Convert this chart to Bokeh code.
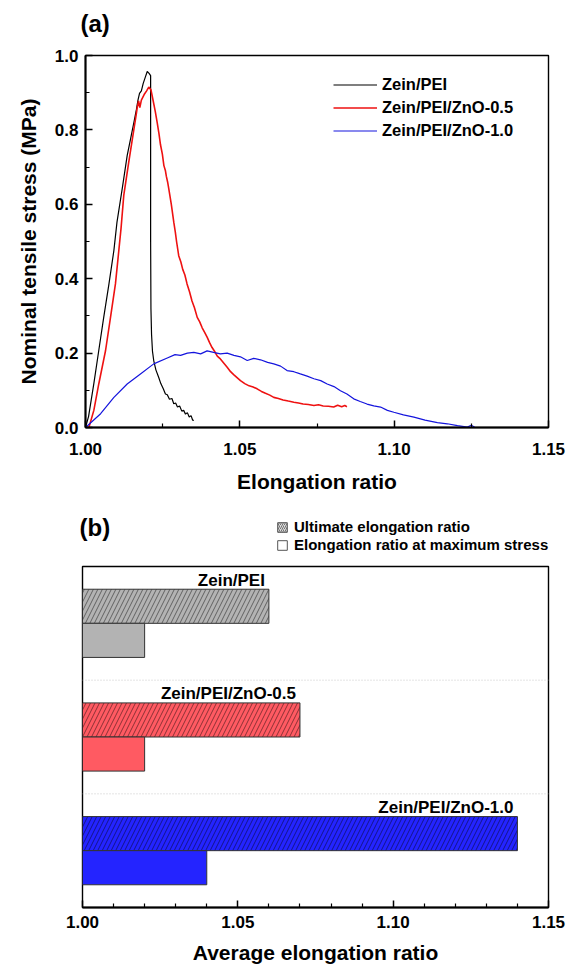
from bokeh.plotting import figure
from bokeh.models import (Legend, LegendItem, FixedTicker, NumeralTickFormatter,
                          Label, Span, Range1d, ColumnDataSource)
from bokeh.layouts import column, row
from bokeh.embed import file_html
from bokeh.resources import INLINE
from bokeh.core.properties import value

# ---------------- data: panel (a) stress-strain curves ----------------
series_names = ["Zein/PEI", "Zein/PEI/ZnO-0.5", "Zein/PEI/ZnO-1.0"]

black_x = [1.0000, 1.0010, 1.0027, 1.0043, 1.0059, 1.0076, 1.0092, 1.0102, 1.0119,
           1.0135, 1.0147, 1.0157, 1.0165, 1.0170, 1.0175, 1.0181, 1.0187, 1.0193,
           1.0200, 1.0206, 1.0211, 1.0211, 1.0212, 1.0214, 1.0217, 1.0221, 1.0228,
           1.0237, 1.0244, 1.0252, 1.0259, 1.0265, 1.0272, 1.0280, 1.0286, 1.0292,
           1.0298, 1.0305, 1.0312, 1.0318, 1.0324, 1.0330, 1.0336, 1.0342, 1.0347, 1.0351]
black_y = [0.000, 0.030, 0.118, 0.207, 0.296, 0.386, 0.476, 0.552, 0.642,
           0.731, 0.780, 0.821, 0.855, 0.880, 0.898, 0.905, 0.925, 0.940,
           0.957, 0.952, 0.946, 0.500, 0.320, 0.250, 0.205, 0.180, 0.155,
           0.135, 0.118, 0.104, 0.090, 0.088, 0.076, 0.078, 0.064, 0.066,
           0.055, 0.058, 0.044, 0.046, 0.036, 0.040, 0.028, 0.032, 0.020, 0.019]

red_x = [1.0000, 1.0011, 1.0027, 1.0043, 1.0065, 1.0081, 1.0097, 1.0108, 1.0115,
         1.0124, 1.0140, 1.0157, 1.0164, 1.0168, 1.0172, 1.0176, 1.0181, 1.0190,
         1.0198, 1.0205, 1.0212, 1.0220, 1.0226, 1.0232, 1.0238, 1.0243, 1.0249,
         1.0254, 1.0259, 1.0262, 1.0266, 1.0270, 1.0278, 1.0286, 1.0291, 1.0295,
         1.0302, 1.0309, 1.0315, 1.0322, 1.0329, 1.0337, 1.0345, 1.0353, 1.0362,
         1.0370, 1.0378, 1.0386, 1.0394, 1.0402, 1.0410, 1.0418, 1.0427, 1.0435,
         1.0443, 1.0451, 1.0459, 1.0470, 1.0480, 1.0491, 1.0502, 1.0516, 1.0530,
         1.0543, 1.0556, 1.0570, 1.0583, 1.0597, 1.0610, 1.0625, 1.0640, 1.0657,
         1.0675, 1.0690, 1.0705, 1.0722, 1.0740, 1.0755, 1.0770, 1.0787, 1.0804,
         1.0817, 1.0830, 1.0840, 1.0847]
red_y = [0.000, 0.000, 0.046, 0.117, 0.207, 0.296, 0.386, 0.476, 0.534,
         0.624, 0.713, 0.803, 0.840, 0.862, 0.878, 0.860, 0.880, 0.895,
         0.905, 0.915, 0.908, 0.875, 0.850, 0.821, 0.790, 0.760, 0.735,
         0.704, 0.690, 0.675, 0.660, 0.641, 0.600, 0.552, 0.525, 0.500,
         0.462, 0.445, 0.425, 0.410, 0.386, 0.365, 0.340, 0.322, 0.296,
         0.284, 0.268, 0.256, 0.243, 0.228, 0.215, 0.205, 0.192, 0.186,
         0.178, 0.170, 0.162, 0.150, 0.142, 0.134, 0.126, 0.118, 0.112,
         0.109, 0.104, 0.097, 0.092, 0.087, 0.081, 0.078, 0.074, 0.071,
         0.068, 0.066, 0.063, 0.062, 0.059, 0.061, 0.058, 0.057, 0.055,
         0.060, 0.056, 0.059, 0.056]

blue_x = [1.0000, 1.0049, 1.0092, 1.0135, 1.0178, 1.0221, 1.0265, 1.0290, 1.0308,
          1.0330, 1.0351, 1.0373, 1.0394, 1.0415, 1.0437, 1.0459, 1.0481, 1.0502,
          1.0524, 1.0545, 1.0567, 1.0590, 1.0610, 1.0632, 1.0653, 1.0675, 1.0696,
          1.0718, 1.0740, 1.0762, 1.0783, 1.0805, 1.0826, 1.0847, 1.0869, 1.0890,
          1.0912, 1.0934, 1.0956, 1.0978, 1.0999, 1.1030, 1.1064, 1.1100, 1.1140,
          1.1172, 1.1205, 1.1237, 1.1250, 1.1262, 1.1285]
blue_y = [0.000, 0.037, 0.081, 0.117, 0.144, 0.171, 0.187, 0.196, 0.194,
          0.200, 0.202, 0.198, 0.206, 0.202, 0.198, 0.200, 0.194, 0.190,
          0.180, 0.186, 0.182, 0.175, 0.171, 0.165, 0.153, 0.150, 0.144,
          0.138, 0.131, 0.126, 0.117, 0.110, 0.099, 0.090, 0.077, 0.070,
          0.063, 0.058, 0.055, 0.046, 0.041, 0.034, 0.028, 0.020, 0.013,
          0.010, 0.005, 0.001, 0.006, 0.000, 0.000]

# ---------------- data: panel (b) average elongation ratios ----------------
groups = ["Zein/PEI", "Zein/PEI/ZnO-0.5", "Zein/PEI/ZnO-1.0"]
ultimate_ratio = [1.06, 1.07, 1.14]
ratio_at_max_stress = [1.02, 1.02, 1.04]
legend_b_labels = ["Ultimate elongation ratio", "Elongation ratio at maximum stress"]

x_major = [1.00, 1.05, 1.10, 1.15]
a_x_minor = [1.025, 1.075, 1.125]
a_y_major = [0.0, 0.2, 0.4, 0.6, 0.8, 1.0]
a_y_minor = [0.1, 0.3, 0.5, 0.7, 0.9]
b_x_minor = [1.01, 1.02, 1.03, 1.04, 1.06, 1.07, 1.08, 1.09, 1.11, 1.12, 1.13, 1.14]

# ---------------- styles ----------------
FONT = "Liberation Sans"
W = 568
RIGHT = 20
line_colors = ["#000000", "#ee1111", "#1414dd"]
bar_colors = ["#b3b3b3", "#ff5a62", "#2424ff"]


def style_axes(p, tick_size, label_size):
    p.grid.visible = False
    p.outline_line_color = "black"
    p.outline_line_width = 1.4
    for ax in [p.xaxis[0], p.yaxis[0]]:
        ax.axis_line_width = 2
        ax.major_tick_in = 7
        ax.major_tick_out = 0
        ax.minor_tick_in = 4
        ax.minor_tick_out = 0
        ax.major_tick_line_width = 1.5
        ax.minor_tick_line_width = 1.2
        ax.major_label_text_font = FONT
        ax.major_label_text_font_style = "bold"
        ax.major_label_text_font_size = tick_size
        ax.major_label_text_color = "black"
        ax.axis_label_text_font = FONT
        ax.axis_label_text_font_style = "bold"
        ax.axis_label_text_font_size = label_size
        ax.axis_label_text_color = "black"


def header(height):
    h = figure(width=W, height=height, output_backend="svg", toolbar_location=None,
               x_range=Range1d(0, 1), y_range=Range1d(0, 1),
               x_axis_location=None, y_axis_location=None,
               min_border_left=0, min_border_right=0, min_border_top=0,
               min_border_bottom=0)
    h.grid.visible = False
    h.outline_line_color = None
    return h


# ================= header (a) =================
ha = header(40)
ha.add_layout(Label(x=80, y=17, x_units="screen", y_units="screen", text="(a)",
                    text_font=FONT, text_font_style="bold", text_font_size="24px",
                    text_align="left", text_baseline="middle", text_color="black"))

# ================= panel (a) =================
pa = figure(width=W, height=462, output_backend="svg", toolbar_location=None,
            x_range=Range1d(1.0, 1.15), y_range=Range1d(0.0, 1.0),
            min_border_left=85, min_border_right=RIGHT, min_border_top=15,
            min_border_bottom=75)
style_axes(pa, "17px", "21px")
pa.xaxis.ticker = FixedTicker(ticks=x_major, minor_ticks=a_x_minor)
pa.yaxis.ticker = FixedTicker(ticks=a_y_major, minor_ticks=a_y_minor)
pa.xaxis.formatter = NumeralTickFormatter(format="0.00")
pa.yaxis.formatter = NumeralTickFormatter(format="0.0")
pa.xaxis.axis_label = "Elongation ratio"
pa.yaxis.axis_label = "Nominal tensile stress (MPa)"
pa.xaxis.major_label_standoff = 15
pa.yaxis.major_label_standoff = 7
pa.xaxis.axis_label_standoff = 12
pa.yaxis.axis_label_standoff = 12

curves = [(black_x, black_y), (red_x, red_y), (blue_x, blue_y)]
widths = [1.2, 1.6, 1.2]
items = []
for (xs, ys), c, w, name in zip(curves, line_colors, widths, series_names):
    r = pa.line(xs, ys, line_color=c, line_width=w)
    items.append(LegendItem(label=name, renderers=[r]))

leg_a = Legend(items=items, location=(248, 287), border_line_color=None,
               background_fill_alpha=0, padding=0, margin=0,
               glyph_width=44, glyph_height=19, spacing=4, label_standoff=5,
               label_text_font=FONT, label_text_font_style="bold",
               label_text_font_size="16.5px", label_text_color="black")
pa.add_layout(leg_a)

# ================= header (b) with legend =================
hb = header(60)
hb.add_layout(Label(x=79, y=35, x_units="screen", y_units="screen", text="(b)",
                    text_font=FONT, text_font_style="bold", text_font_size="24px",
                    text_align="left", text_baseline="middle", text_color="black"))
# swatch-only renderers (their single bar lies outside the visible range)
lg1 = hb.hbar(y=[-50], left=[-50], right=[-40], height=1, fill_color="#dddddd",
              line_color="#555555", line_width=1, hatch_pattern="/",
              hatch_color="#555555", hatch_scale=4, hatch_weight=0.8)
lg2 = hb.hbar(y=[-50], left=[-50], right=[-40], height=1, fill_color="white",
              line_color="#555555", line_width=1)
leg_b = Legend(items=[LegendItem(label=legend_b_labels[0], renderers=[lg1]),
                      LegendItem(label=legend_b_labels[1], renderers=[lg2])],
               location=(276, 9), border_line_color=None,
               background_fill_alpha=0, padding=0, margin=0,
               glyph_width=12, glyph_height=12, spacing=1, label_standoff=6,
               label_text_font=FONT, label_text_font_style="bold",
               label_text_font_size="15px", label_text_color="black")
hb.add_layout(leg_b)

# ================= panel (b) =================
pb = figure(width=W, height=407, output_backend="svg", toolbar_location=None,
            x_range=Range1d(1.0, 1.15), y_range=Range1d(0.0, 3.0),
            min_border_left=82, min_border_right=RIGHT, min_border_top=4,
            min_border_bottom=62)
style_axes(pb, "17px", "21px")
pb.yaxis.visible = False
pb.xaxis.ticker = FixedTicker(ticks=x_major, minor_ticks=b_x_minor)
pb.xaxis.formatter = NumeralTickFormatter(format="0.00")
pb.xaxis.axis_label = "Average elongation ratio"
pb.xaxis.major_label_standoff = 8
pb.xaxis.axis_label_standoff = 10

n = len(groups)
group_top = [n - i for i in range(n)]
hatch_y = [t - 0.35 for t in group_top]
solid_y = [t - 0.65 for t in group_top]
label_y = [t - 0.2 for t in group_top]

src_b = ColumnDataSource(dict(hy=hatch_y, sy=solid_y, ly=label_y,
                              ult=ultimate_ratio, mx=ratio_at_max_stress,
                              color=bar_colors, name=groups))

for loc in range(1, n):
    pb.add_layout(Span(location=loc, dimension="width", line_color="#c8c8c8",
                       line_width=1, line_dash="1 2"))

pb.hbar(y="hy", left=1.0, right="ult", height=0.3, source=src_b,
        fill_color="color", line_color="#333333", line_width=1,
        hatch_pattern="/", hatch_color="black", hatch_alpha=0.5,
        hatch_scale=9, hatch_weight=0.9)
pb.hbar(y="sy", left=1.0, right="mx", height=0.3, source=src_b,
        fill_color="color", line_color="#333333", line_width=1)

pb.text(x="ult", y="ly", text="name", source=src_b, text_align="right",
        text_baseline="alphabetic", x_offset=-4, y_offset=-9,
        text_font=value(FONT), text_font_style="bold", text_font_size="17px",
        text_color="black")

layout = column(row(ha), pa, row(hb), row(pb), spacing=0)
open("out.html", "w").write(file_html(layout, INLINE))
